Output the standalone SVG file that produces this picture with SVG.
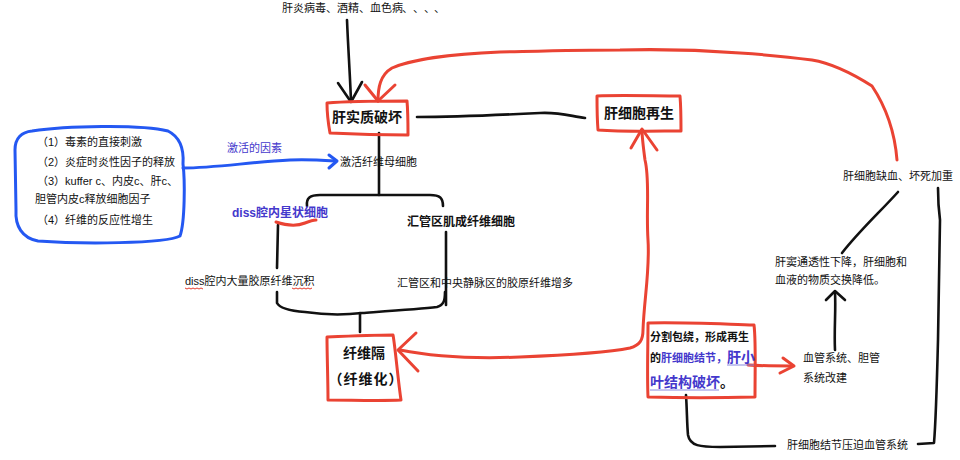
<svg xmlns="http://www.w3.org/2000/svg" width="960" height="460" viewBox="0 0 960 460">
<style>
text{font-family:"Liberation Sans","Noto Sans CJK SC",sans-serif;fill:#111;}
.t{font-size:11px;}
.tb{font-size:11px;font-weight:bold;}
.h{font-size:14px;font-weight:bold;}
.b12{font-size:12px;font-weight:bold;}
.blue{fill:#4438cc;}
.red{fill:none;stroke:#ea4333;stroke-width:3;stroke-linecap:round;stroke-linejoin:round;}
.blk{fill:none;stroke:#111;stroke-width:2.6;stroke-linecap:round;stroke-linejoin:round;}
.bl{fill:none;stroke:#2458f2;stroke-width:3;stroke-linecap:round;stroke-linejoin:round;}
.thin{fill:none;stroke:#e53b2e;stroke-width:1;}
</style>
<rect width="960" height="460" fill="#fff"/>

<g id="connectors">
  <path class="blk" d="M347,20 C348,45 350,75 351,101"/>
  <path class="blk" d="M338,83 L351,102 L362,82"/>
  <path class="red" d="M897,160 C895,135 888,110 872,86 C850,72 830,63 812,60 C790,57 770,55 740,53 C700,50 660,49 620,50 C580,50 545,51 500,52 C450,54 410,60 392,68 C380,75 378,88 378,101"/>
  <path class="red" d="M365,85 L378,101 L395,85"/>
  <path class="blk" d="M417,117 C460,117 500,115 540,113 C560,112 570,116 585,118"/>
  <path class="blk" d="M379,133 L379,195"/>
  <path class="blk" d="M307,206 C306,198 310,195 320,195 L430,195 C440,195 443,198 443,206"/>
  <path class="bl" d="M183,168 C215,168 250,162 290,160 C305,159 320,160 335,161"/>
  <path class="bl" d="M329,155 L337,161 L329,168"/>
  <path class="blk" d="M278,225 L277,268"/>
  <path class="blk" d="M277,292 L277,303 C280,309 292,311 305,312 C325,315 345,315 362,313 C390,311 420,309 437,307 C444,305 445,300 445,292"/>
  <path class="blk" d="M446,232 L446,305"/>
  <path class="blk" d="M360,313 L360,332"/>
  <path class="red" d="M400,350 C430,356 470,359 520,357 C570,355 610,352 630,348 C640,345 643,340 643,330 C644,300 650,270 648,240 C646,210 650,180 645,160 C643,145 642,135 642,130"/>
  <path class="red" d="M631,148 L642,129 L657,150"/>
  <path class="red" d="M416,333 L398,350 L418,371"/>
  <path class="red" d="M748,365 C765,366 780,366 792,366"/>
  <path class="red" d="M783,358 L794,366 L780,373"/>
  <path class="blk" d="M835,350 C834,330 836,310 835,292"/>
  <path class="blk" d="M826,300 L835,291 L845,300"/>
  <path class="blk" d="M842,253 C860,230 880,212 898,192"/>
  <path class="blk" d="M686,395 C687,410 687,425 688,435 C690,446 700,447 720,447 L775,446"/>
  <path class="blk" d="M918,444 L934,443 C936,420 937,380 938,340 C939,290 940,240 940,220 C938,205 938,195 938,188"/>
</g>

<g id="causes">
  <text class="t" x="282" y="12" font-size="10.5">肝炎病毒、酒精、血色病<tspan x="402">、</tspan><tspan x="413">、</tspan><tspan x="424">、</tspan><tspan x="434">、</tspan></text>
</g>

<g id="parenchyma">
  <path class="red" d="M327,103 C350,101 385,101 407,101 C408,112 408,124 408,135 C385,135 350,134 330,133 C328,122 327,112 327,103 Z"/>
  <text class="h" x="367" y="122" text-anchor="middle">肝实质破坏</text>
</g>

<g id="regeneration">
  <path class="red" d="M597,96 C620,95 655,96 680,96 C681,108 681,120 681,131 C660,131 625,132 598,130 C597,118 597,106 597,96 Z"/>
  <text class="h" x="639" y="118" text-anchor="middle">肝细胞再生</text>
</g>

<g id="factors">
  <path class="bl" d="M32,131 C65,126 140,124 168,131 C180,137 184,150 183,164 C185,180 185,222 180,236 C165,244 80,244 38,241 C22,238 15,226 16,210 L15,150 C15,138 22,132 32,131 Z"/>
  <text class="t" x="37" y="146">（1）毒素的直接刺激</text>
  <text class="t" x="37" y="166">（2）炎症时炎性因子的释放</text>
  <text class="t" x="37" y="185">（3）kuffer c、内皮c、肝c、</text>
  <text class="t" x="35" y="203">胆管内皮c释放细胞因子</text>
  <text class="t" x="37" y="224">（4）纤维的反应性增生</text>
  <text class="t blue" x="227" y="152">激活的因素</text>
</g>

<g id="activate">
  <text class="t" x="340" y="166">激活纤维母细胞</text>
</g>

<g id="stellate">
  <text class="b12 blue" x="232" y="217">diss腔内星状细胞</text>
  <path class="red" stroke-width="2" d="M276,222 C285,225 295,227 305,223 C310,221 313,220 316,220"/>
</g>

<g id="myofibro">
  <text class="b12" x="407" y="226">汇管区肌成纤维细胞</text>
</g>

<g id="deposit">
  <text class="t" x="185" y="285">diss腔内大量胶原纤维沉积</text>
  <path class="thin" d="M185,288 l2,1 l2,-1 l2,1 l2,-1 l2,1 l2,-1 l2,1 l2,-1 l2,1"/>
  <path class="thin" d="M292,288 l2,1 l2,-1 l2,1 l2,-1 l2,1 l2,-1 l2,1 l2,-1 l2,1 l2,-1"/>
</g>

<g id="portal">
  <text class="t" x="397" y="287">汇管区和中央静脉区的胶原纤维增多</text>
</g>

<g id="septum">
  <path class="red" d="M327,337 C350,336 375,335 393,335 C395,345 398,380 401,400 C380,401 350,400 328,400 C328,380 327,355 327,337 Z"/>
  <text class="h" x="364" y="358" text-anchor="middle">纤维隔</text>
  <text class="h" x="366" y="384" text-anchor="middle" letter-spacing="1">（纤维化）</text>
</g>

<g id="nodule">
  <path class="red" d="M648,323 C680,322 720,324 754,325 C756,340 755,370 755,397 C720,398 680,398 648,397 C647,375 648,345 648,323 Z"/>
  <text class="tb" x="650" y="341">分割包绕，形成再生</text>
  <text class="tb" x="650" y="362">的<tspan class="blue">肝细胞结节，</tspan><tspan class="blue" font-size="14">肝小</tspan></text>
  <text class="h" x="650" y="387"><tspan class="blue">叶结构破坏</tspan>。</text>
  <path fill="none" stroke="#8a8ae0" stroke-width="1" d="M727,365 L754,365 M650,390 L719,390"/>
</g>

<g id="vascular">
  <text class="t" x="803" y="362">血管系统、胆管</text>
  <text class="t" x="803" y="382">系统改建</text>
</g>

<g id="sinusoid">
  <text class="t" x="775" y="266">肝窦通透性下降，肝细胞和</text>
  <text class="t" x="775" y="284">血液的物质交换降低。</text>
</g>

<g id="ischemia">
  <text class="t" x="843" y="180">肝细胞缺血、坏死加重</text>
</g>

<g id="compression">
  <text class="t" x="787" y="449">肝细胞结节压迫血管系统</text>
</g>
</svg>
